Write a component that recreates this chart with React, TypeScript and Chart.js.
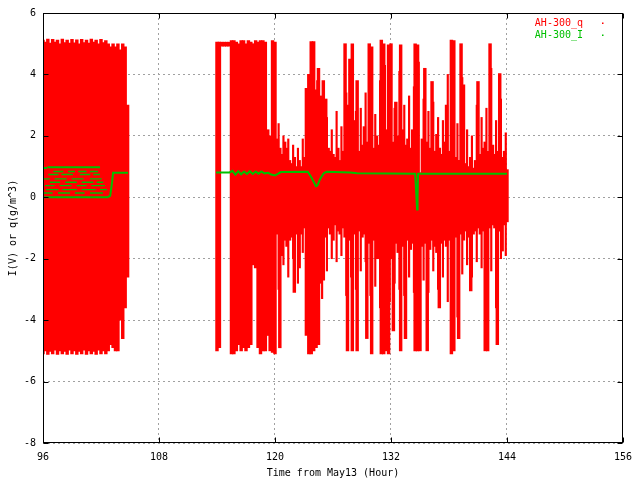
import { useEffect, useRef } from 'react';
import { Chart, registerables } from 'chart.js';

Chart.register(...registerables);

// axis ticks
const xTicks = [96, 108, 120, 132, 144, 156];
const yTicks = [-8, -6, -4, -2, 0, 2, 4, 6];

// AH-300_q : sampled range [low, high] of the dotted cloud, every 1/4 hour
const qTime = [
  96, 96.25, 96.5, 96.75, 97, 97.25, 97.5, 97.75, 98, 98.25, 98.5, 98.75,
  99, 99.25, 99.5, 99.75, 100, 100.25, 100.5, 100.75, 101, 101.25, 101.5, 101.75,
  102, 102.25, 102.5, 102.75, 103, 103.25, 103.5, 103.75, 104, 104.25, 104.5, 104.75,
  114, 114.25, 114.5, 114.75, 115, 115.25, 115.5, 115.75, 116, 116.25, 116.5, 116.75,
  117, 117.25, 117.5, 117.75, 118, 118.25, 118.5, 118.75, 119, 119.25, 119.5, 119.75,
  120, 120.25, 120.5, 120.75, 121, 121.25, 121.5, 121.75, 122, 122.25, 122.5, 122.75,
  123, 123.25, 123.5, 123.75, 124, 124.25, 124.5, 124.75, 125, 125.25, 125.5, 125.75,
  126, 126.25, 126.5, 126.75, 127, 127.25, 127.5, 127.75, 128, 128.25, 128.5, 128.75,
  129, 129.25, 129.5, 129.75, 130, 130.25, 130.5, 130.75, 131, 131.25, 131.5, 131.75,
  132, 132.25, 132.5, 132.75, 133, 133.25, 133.5, 133.75, 134, 134.25, 134.5, 134.75,
  135, 135.25, 135.5, 135.75, 136, 136.25, 136.5, 136.75, 137, 137.25, 137.5, 137.75,
  138, 138.25, 138.5, 138.75, 139, 139.25, 139.5, 139.75, 140, 140.25, 140.5, 140.75,
  141, 141.25, 141.5, 141.75, 142, 142.25, 142.5, 142.75, 143, 143.25, 143.5, 143.75,
  144,
];
const qLow = [
  -5.1, -5.0, -5.12, -5.02, -5.1, -4.98, -5.12, -5.0, -5.1, -5.02, -5.12, -4.98,
  -5.1, -5.0, -5.12, -5.02, -5.1, -4.98, -5.12, -5.0, -5.1, -5.02, -5.12, -4.98,
  -5.1, -5.0, -5.1, -5.0, -4.8, -4.9, -5.0, -5.0, -4.0, -4.6, -3.6, -2.6,
  -5.0, -4.9, 4.92, 4.92, 4.92, 4.92, -5.1, -5.1, -5.0, -4.8, -5.0, -4.9,
  -5.0, -4.9, -4.8, -2.2, -2.3, -4.9, -5.1, -5.0, -5.0, -4.5, -5.0, -5.05,
  -5.1, -1.2, -4.9, -1.9, -1.4, -1.6, -1.4, -1.3, -3.1, -1.2, -2.3, -1.2,
  -1.0, -4.5, -5.1, -5.1, -5.0, -4.9, -4.8, -2.8, -2.7, -1.3, -1.0, -1.2,
  -1.4, -0.9, -1.1, -1.2, -1.0, -1.3, -5.0, -1.4, -5.0, -1.2, -5.0, -1.1,
  -1.3, -1.2, -4.6, -1.5, -5.1, -1.4, -2.0, -2.0, -5.1, -5.1, -5.0, -5.1,
  -2.0, -4.35, -1.5, -1.8, -5.0, -1.6, -4.6, -1.4, -1.7, -1.5, -5.0, -5.0,
  -5.0, -1.6, -1.5, -5.0, -1.7, -1.4, -1.6, -1.8, -3.6, -1.5, -1.4, -1.6,
  -1.4, -5.1, -5.0, -1.3, -4.6, -1.2, -1.4, -1.1, -1.3, -3.05, -1.2, -1.1,
  -1.0, -1.2, -1.1, -5.0, -5.0, -1.0, -0.9, -1.0, -4.8, -1.1, -1.75, -0.9,
  -0.8,
];
const qHigh = [
  5.12, 5.05, 5.15, 5.02, 5.14, 5.05, 5.12, 5.0, 5.15, 5.04, 5.12, 5.02,
  5.14, 5.03, 5.13, 5.0, 5.14, 5.04, 5.12, 5.02, 5.15, 5.05, 5.12, 5.0,
  5.14, 5.04, 5.1, 5.0, 4.9, 5.0, 4.9, 5.0, 4.8, 5.0, 4.9, 3.0,
  5.05, 5.05, 5.05, 5.05, 5.05, 5.05, 5.1, 5.1, 5.05, 5.0, 5.1, 5.1,
  5.0, 5.1, 5.05, 5.0, 5.1, 5.05, 5.1, 5.1, 5.05, 2.2, 2.0, 5.1,
  5.05, 1.9, 1.6, 1.4, 1.8, 1.6, 1.2, 1.1, 1.3, 1.0, 1.2, 1.0,
  1.3, 3.55, 4.0, 5.07, 5.07, 3.5, 4.2, 3.3, 3.8, 3.2, 1.6, 1.5,
  1.4, 1.3, 1.6, 1.2, 1.5, 5.0, 3.0, 4.5, 5.0, 2.5, 3.8, 1.5,
  1.7, 2.3, 1.8, 5.0, 4.9, 1.6, 2.0, 1.7, 5.12, 5.0, 2.2, 4.96,
  5.0, 1.8, 3.1, 2.0, 4.96, 2.2, 1.7, 1.9, 1.6, 2.2, 5.0, 4.96,
  0.8, 1.9, 4.2, 1.8, 1.6, 3.77, 1.5, 2.05, 1.6, 1.4, 1.8, 3.0,
  1.5, 5.12, 5.1, 1.3, 1.2, 5.0, 3.66, 1.1, 1.0, 1.3, 0.95, 1.2,
  3.77, 1.4, 1.6, 1.8, 1.5, 5.0, 1.7, 1.4, 1.5, 4.03, 1.3, 1.5,
  0.9,
];

// AH-300_q : thinner in-between spikes of the second block
const qSpikeTime = [
  120.375, 120.875, 121.375, 121.875, 122.375, 122.875, 123.375, 123.875,
  124.375, 124.875, 125.375, 125.875, 126.375, 126.875, 127.375, 127.875,
  128.375, 128.875, 129.375, 129.875, 130.375, 130.875, 131.375, 131.875,
  132.375, 132.875, 133.375, 133.875, 134.375, 134.875, 135.375, 135.875,
  136.375, 136.875, 137.375, 137.875, 138.375, 138.875, 139.375, 139.875,
  140.375, 140.875, 141.375, 141.875, 142.375, 142.875, 143.375, 143.875,
];
const qSpikeLow = [
  -3.0, -2.2, -2.6, -2.0, -2.8, -1.8, -3.5, -4.2,
  -4.0, -3.3, -2.4, -2.0, -2.1, -1.9, -3.2, -2.6,
  -3.0, -2.4, -2.1, -3.2, -2.9, -3.6, -4.0, -3.4,
  -2.8, -3.0, -3.2, -2.6, -3.1, -3.9, -2.7, -3.1,
  -2.4, -3.0, -2.6, -3.4, -3.8, -3.9, -2.5, -2.2,
  -2.6, -2.1, -2.3, -4.0, -2.4, -3.6, -2.0, -1.9,
];
const qSpikeHigh = [
  2.4, 2.0, 1.9, 1.7, 1.6, 1.9, 2.6, 4.5,
  3.8, 2.9, 2.6, 2.2, 2.8, 2.3, 3.4, 3.9,
  2.8, 2.9, 3.4, 3.6, 2.7, 3.8, 4.3, 3.5,
  2.9, 4.1, 3.0, 3.3, 3.6, 4.4, 3.2, 2.8,
  3.1, 2.6, 2.5, 4.0, 4.2, 2.4, 3.9, 2.2,
  2.0, 3.0, 2.6, 2.9, 4.2, 2.5, 3.2, 2.1,
];

// AH-300_I : short horizontal runs [start, end, level] in the first block
const iRuns = [
  [97.07, 98.1, 0.84], [98.6, 99.3, 0.84], [99.65, 100.5, 0.84], [100.86, 101.7, 0.84],
  [96.55, 97.6, 0.74], [97.9, 99.1, 0.74], [99.8, 100.9, 0.74], [101.2, 101.9, 0.74],
  [96.03, 96.7, 0.6], [97.2, 98.45, 0.6], [98.97, 100.2, 0.6], [100.86, 102.07, 0.6],
  [96.7, 97.76, 0.49], [98.3, 99.5, 0.49], [100.0, 101.2, 0.49], [101.55, 102.23, 0.49],
  [96.2, 97.2, 0.38], [97.7, 98.95, 0.38], [99.5, 100.5, 0.38], [101.0, 102.4, 0.38],
  [96.3, 97.6, 0.25], [98.0, 99.5, 0.25], [100.0, 101.45, 0.25], [101.9, 102.6, 0.25],
  [96.0, 97.0, 0.14], [97.55, 98.8, 0.14], [99.3, 100.3, 0.14], [100.86, 102.2, 0.14],
];
// AH-300_I : continuous traces [time, value]
const iTrace1 = [
  [96.45, 0.98], [101.9, 0.98],
];
const iTrace2 = [
  [96.4, 0.95], [96.0, 0.95], [96.0, 0.0], [102.65, 0.0], [102.95, 0.05], [103.15, 0.5],
  [103.25, 0.8], [104.8, 0.8],
];
const iTrace3 = [
  [113.9, 0.81], [115.3, 0.81], [115.6, 0.86], [115.9, 0.74], [116.2, 0.85],
  [116.5, 0.75], [116.8, 0.84], [117.1, 0.76], [117.4, 0.85], [117.7, 0.76],
  [118.0, 0.84], [118.3, 0.77], [118.6, 0.84], [118.9, 0.78], [119.3, 0.8],
  [119.6, 0.74], [120.0, 0.71], [120.3, 0.76], [120.6, 0.82], [123.4, 0.83],
  [123.8, 0.63], [124.03, 0.49], [124.24, 0.36], [124.38, 0.38], [124.65, 0.58],
  [124.83, 0.68], [125.07, 0.79], [125.35, 0.83], [127.8, 0.81], [128.5, 0.78],
  [134.5, 0.77], [134.6, 0.2], [134.7, -0.4], [134.75, 0.0], [134.8, 0.77],
  [144.0, 0.77],
];

const FONT = "'DejaVu Sans Mono', monospace";

function runsToPoints() {
  const pts: { x: number; y: number | null }[] = [];
  for (const [a, b, lv] of iRuns) {
    pts.push({ x: a, y: lv }, { x: b, y: lv }, { x: b, y: null });
  }
  return pts;
}

function tracesToPoints() {
  const pts: { x: number; y: number | null }[] = [];
  for (const tr of [iTrace1, iTrace2, iTrace3]) {
    for (const [t, v] of tr) pts.push({ x: t, y: v });
    pts.push({ x: tr[tr.length - 1][0], y: null });
  }
  return pts;
}

const framePlugin = {
  id: 'gnuFrame',
  afterDatasetsDraw(chart: any) {
    const { ctx, chartArea: a, scales } = chart;
    const L = Math.round(a.left) + 0.5;
    const R = Math.round(a.right) - 0.5;
    const T = Math.round(a.top) + 0.5;
    const B = Math.round(a.bottom) - 0.5;
    ctx.save();
    ctx.strokeStyle = '#000';
    ctx.lineWidth = 1;
    ctx.strokeRect(L, T, R - L, B - T);
    ctx.beginPath();
    for (const v of xTicks) {
      const px = Math.round(scales.x.getPixelForValue(v)) + 0.5;
      ctx.moveTo(px, B); ctx.lineTo(px, B - 5);
      ctx.moveTo(px, T); ctx.lineTo(px, T + 5);
    }
    for (const v of yTicks) {
      const py = Math.round(scales.y.getPixelForValue(v)) + 0.5;
      ctx.moveTo(L, py); ctx.lineTo(L + 5, py);
      ctx.moveTo(R, py); ctx.lineTo(R - 5, py);
    }
    ctx.stroke();
    ctx.restore();
  },
  afterDraw(chart: any) {
    // gnuplot style key, top right inside the plot
    const { ctx } = chart;
    ctx.save();
    ctx.font = '10px ' + FONT;
    ctx.textAlign = 'right';
    ctx.textBaseline = 'middle';
    const keyed = chart.data.datasets.filter((ds: any) => ds.keyColor);
    keyed.forEach((ds: any, i: number) => {
      const y = 23 + i * 12;
      ctx.fillStyle = ds.keyColor;
      ctx.fillText(ds.label, 583, y);
      ctx.fillRect(602, y - 0.5, 1.5, 1.5);
    });
    ctx.restore();
  },
};

export default function App() {
  const canvasRef = useRef<HTMLCanvasElement | null>(null);

  useEffect(() => {
    if (!canvasRef.current) return;
    const qData = qTime.map((t, i) => ({ x: t, y: [qLow[i], qHigh[i]] }));
    const spikeData = qSpikeTime.map((t, i) => ({ x: t, y: [qSpikeLow[i], qSpikeHigh[i]] }));

    const chart = new Chart(canvasRef.current, {
      type: 'bar',
      data: {
        datasets: [
          {
            type: 'bar',
            label: 'AH-300_q',
            data: qData as any,
            backgroundColor: '#ff0000',
            borderWidth: 0,
            barThickness: 2.8,
            grouped: false,
            order: 3,
            keyColor: '#ff0000',
          } as any,
          {
            type: 'bar',
            label: 'AH-300_q spikes',
            data: spikeData as any,
            backgroundColor: '#ff0000',
            borderWidth: 0,
            barThickness: 1.5,
            grouped: false,
            order: 2,
          } as any,
          {
            type: 'line',
            label: 'AH-300_I',
            data: tracesToPoints() as any,
            borderColor: '#00c000',
            borderWidth: 2,
            pointRadius: 0,
            spanGaps: false,
            tension: 0,
            order: 1,
            keyColor: '#00c000',
          } as any,
          {
            type: 'line',
            label: 'AH-300_I levels',
            data: runsToPoints() as any,
            borderColor: '#00c000',
            borderWidth: 1.4,
            pointRadius: 0,
            spanGaps: false,
            tension: 0,
            order: 1,
          } as any,
        ],
      },
      options: {
        responsive: false,
        animation: false,
        layout: { padding: { top: 12, right: 17, left: 0, bottom: 0 } },
        plugins: { legend: { display: false }, tooltip: { enabled: false } },
        scales: {
          x: {
            type: 'linear',
            min: 96,
            max: 156,
            offset: false,
            afterBuildTicks: (s: any) => { s.ticks = xTicks.map((v) => ({ value: v })); },
            afterFit: (s: any) => { s.height = 37; },
            grid: { color: '#a0a0a0', drawTicks: false, offset: false },
            border: { display: false, dash: [2, 3] },
            ticks: { color: '#000', padding: 8, font: { family: FONT, size: 10 }, maxRotation: 0 },
            title: {
              display: true,
              text: 'Time from May13 (Hour)',
              color: '#000',
              font: { family: FONT, size: 10 },
              padding: { top: 0, bottom: 1 },
            },
          },
          y: {
            type: 'linear',
            min: -8,
            max: 6,
            afterBuildTicks: (s: any) => { s.ticks = yTicks.map((v) => ({ value: v })); },
            afterFit: (s: any) => { s.width = 43; },
            grid: { color: '#a0a0a0', drawTicks: false },
            border: { display: false, dash: [2, 3] },
            ticks: { color: '#000', padding: 7, font: { family: FONT, size: 10 } },
            title: {
              display: true,
              text: 'I(V) or q(g/m^3)',
              color: '#000',
              font: { family: FONT, size: 10 },
              padding: { top: 7, bottom: 0 },
            },
          },
        },
      },
      plugins: [framePlugin],
    });

    return () => chart.destroy();
  }, []);

  return (
    <div style={{ position: 'fixed', left: 0, top: 0, width: 640, height: 480, background: '#fff' }}>
      <canvas ref={canvasRef} width={640} height={480} style={{ display: 'block' }} />
    </div>
  );
}
